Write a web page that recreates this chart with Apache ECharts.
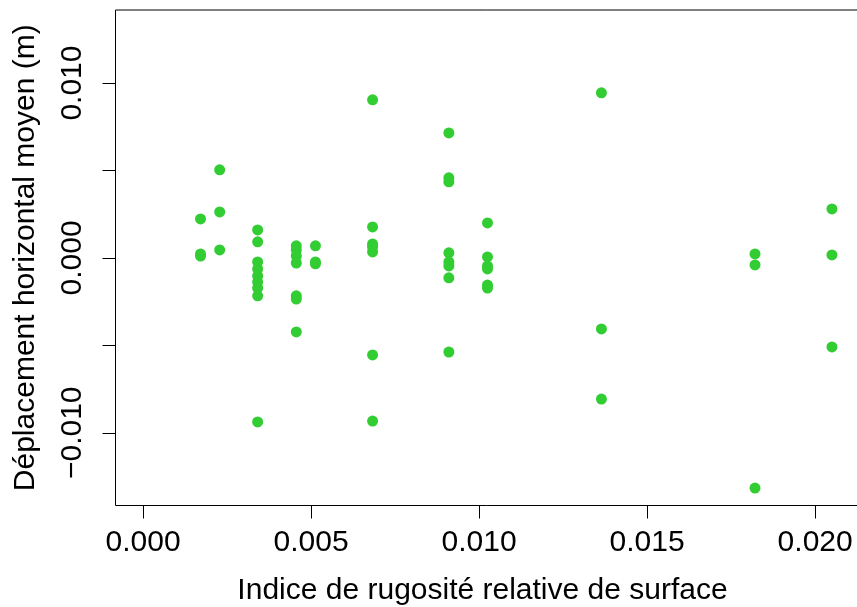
<!DOCTYPE html>
<html>
<head>
<meta charset="utf-8">
<script src="https://cdn.jsdelivr.net/npm/echarts@6/dist/echarts.min.js"></script>
<style>html,body{margin:0;padding:0;background:#fff}#c{width:857px;height:607px}</style>
</head>
<body>
<div id="c"></div>
<script>
// Data (x: Indice de rugosité relative de surface, y: Déplacement horizontal moyen (m))
var xs = [
  0.00171, 0.00171, 0.00171,
  0.00228, 0.00228, 0.00228,
  0.00341, 0.00341, 0.00341, 0.00341, 0.00341, 0.00341, 0.00341, 0.00341, 0.00341,
  0.00456, 0.00456, 0.00456, 0.00456, 0.00456, 0.00456, 0.00456,
  0.00513, 0.00513, 0.00513,
  0.00683, 0.00683, 0.00683, 0.00683, 0.00683, 0.00683, 0.00683,
  0.00910, 0.00910, 0.00910, 0.00910, 0.00910, 0.00910, 0.00910, 0.00910,
  0.01025, 0.01025, 0.01025, 0.01025, 0.01025, 0.01025,
  0.01364, 0.01364, 0.01364,
  0.01821, 0.01821, 0.01821,
  0.02050, 0.02050, 0.02050
];
var ys = [
  0.00223, 0.00023, 0.00011,
  0.00504, 0.00263, 0.00046,
  0.00160, 0.00092, -0.00023, -0.00063, -0.00103, -0.00137, -0.00172, -0.00217, -0.00938,
  0.00069, 0.00046, 0.00011, -0.00029, -0.00217, -0.00235, -0.00423,
  0.00069, -0.00023, -0.00034,
  0.00904, 0.00177, 0.00080, 0.00063, 0.00034, -0.00555, -0.00933,
  0.00715, 0.00458, 0.00435, 0.00029, -0.00023, -0.00046, -0.00114, -0.00538,
  0.00200, 0.00006, -0.00046, -0.00063, -0.00155, -0.00172,
  0.00944, -0.00406, -0.00807,
  0.00023, -0.00040, -0.01316,
  0.00280, 0.00017, -0.00509
];
var xTicks = [0, 0.005, 0.010, 0.015, 0.020];
var yTicks = [-0.010, -0.005, 0, 0.005, 0.010];
var yLabels = [-0.010, 0, 0.010];
var xTitle = 'Indice de rugosité relative de surface';
var yTitle = 'Déplacement horizontal moyen (m)';

function fmt(v) {
  var s = Math.abs(v) < 1e-12 ? '0.000' : v.toFixed(3);
  return s.replace('-', '\u2212');
}

var points = xs.map(function (x, i) { return [x, ys[i]]; });
var FONT = '"Liberation Sans", Arial, Helvetica, sans-serif';

var chart = echarts.init(document.getElementById('c'), null, {renderer: 'canvas'});
chart.setOption({
  animation: false,
  backgroundColor: '#ffffff',
  grid: {
    left: 115.5, top: 10, width: 744, height: 495.5,
    outerBoundsMode: 'none', containLabel: false,
    show: true, borderColor: '#000', borderWidth: 1, backgroundColor: 'transparent'
  },
  xAxis: {
    type: 'value',
    min: -0.00082, max: 0.02132,
    position: 'bottom',
    axisLine: {show: false, onZero: false},
    splitLine: {show: false},
    axisTick: {show: true, inside: false, length: 13, customValues: xTicks,
      lineStyle: {color: '#000', width: 1}},
    axisLabel: {show: true, customValues: xTicks, formatter: fmt, margin: 22,
      color: '#000', fontSize: 30, fontFamily: FONT},
    name: xTitle,
    nameLocation: 'middle',
    nameGap: 70,
    nameTextStyle: {color: '#000', fontSize: 30, fontFamily: FONT, padding: [0, 10, 0, 0]}
  },
  yAxis: {
    type: 'value',
    min: -0.01416, max: 0.01418,
    position: 'left',
    axisLine: {show: false, onZero: false},
    splitLine: {show: false},
    axisTick: {show: true, inside: false, length: 13, customValues: yTicks,
      lineStyle: {color: '#000', width: 1}},
    axisLabel: {show: true, customValues: yLabels, formatter: fmt, rotate: 90, margin: 28,
      color: '#000', fontSize: 30, fontFamily: FONT},
    name: yTitle,
    nameLocation: 'middle',
    nameGap: 75,
    nameTextStyle: {color: '#000', fontSize: 30, fontFamily: FONT}
  },
  series: [{
    type: 'scatter',
    data: points,
    symbol: 'circle',
    symbolSize: 11,
    itemStyle: {color: '#32CD32', opacity: 1},
    emphasis: {disabled: true}
  }]
});
</script>
</body>
</html>
